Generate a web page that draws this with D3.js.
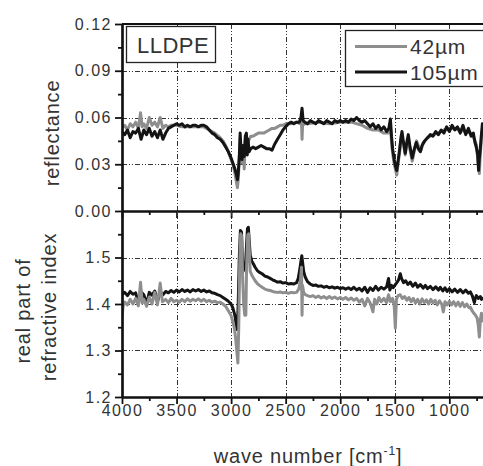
<!DOCTYPE html>
<html>
<head>
<meta charset="utf-8">
<script src="https://cdn.jsdelivr.net/npm/d3@7"></script>
<style>
  body { margin: 0; background: #fff; }
  svg { display: block; font-family: 'Liberation Sans', Arial, sans-serif; }
</style>
</head>
<body>
<div id="chart"></div>
<script>
const width = 483;
const height = 466;

// tick values
const xTicks = [4000, 3500, 3000, 2500, 2000, 1500, 1000];
const xMinor = [3750, 3250, 2750, 2250, 1750, 1250, 750];
const reflTicks = [0.0, 0.03, 0.06, 0.09, 0.12];
const reflMinor = [0.015, 0.045, 0.075, 0.105];
const indexTicks = [1.2, 1.3, 1.4, 1.5];
const indexMinor = [1.25, 1.35, 1.45, 1.55];
const seriesNames = ['42µm', '105µm'];

// reflectance, 42 µm film  [wave number, value]
const refl42 = [
  [4000,0.053],[3975,0.055],[3950,0.052],[3925,0.056],[3900,0.054],[3875,0.057],[3850,0.053],
  [3830,0.063],[3815,0.054],[3800,0.056],[3775,0.053],[3750,0.060],[3725,0.055],[3700,0.057],
  [3675,0.054],[3650,0.060],[3625,0.053],[3600,0.055],[3575,0.054],[3550,0.055],[3525,0.055],
  [3500,0.055],[3450,0.054],[3400,0.054],[3350,0.054],[3300,0.054],[3250,0.054],[3200,0.052],
  [3150,0.050],[3100,0.047],[3075,0.045],[3050,0.042],[3025,0.038],[3000,0.033],[2980,0.029],
  [2965,0.024],[2950,0.018],[2942,0.015],[2935,0.020],[2925,0.033],[2917,0.047],[2910,0.036],
  [2900,0.031],[2890,0.040],[2880,0.027],[2870,0.045],[2860,0.048],[2850,0.043],[2835,0.046],
  [2820,0.048],[2800,0.048],[2775,0.049],[2750,0.050],[2725,0.050],[2700,0.050],[2675,0.051],
  [2650,0.052],[2625,0.053],[2600,0.053],[2575,0.054],[2550,0.055],[2525,0.055],[2500,0.056],
  [2450,0.056],[2400,0.057],[2370,0.056],[2355,0.058],[2350,0.046],[2345,0.055],[2325,0.056],
  [2300,0.056],[2200,0.057],[2100,0.056],[2000,0.057],[1900,0.057],[1800,0.055],[1750,0.053],
  [1700,0.052],[1650,0.052],[1600,0.050],[1560,0.050],[1540,0.054],[1525,0.040],[1510,0.032],
  [1495,0.027],[1482,0.023],[1470,0.030],[1455,0.038],[1440,0.049],[1420,0.043],[1404,0.036],
  [1390,0.043],[1376,0.047],[1360,0.039],[1340,0.032],[1320,0.039],[1300,0.045],[1280,0.041],
  [1260,0.039],[1240,0.044],[1200,0.047],[1150,0.049],[1100,0.050],[1050,0.052],[1000,0.053],
  [950,0.053],[900,0.052],[850,0.051],[800,0.050],[770,0.046],[750,0.042],[735,0.030],
  [725,0.024],[716,0.036],[705,0.048],[690,0.054]
];

// reflectance, 105 µm film
const refl105 = [
  [4000,0.051],[3975,0.049],[3950,0.052],[3925,0.047],[3900,0.051],[3875,0.050],[3850,0.053],
  [3825,0.046],[3800,0.052],[3775,0.049],[3750,0.053],[3725,0.048],[3700,0.051],[3675,0.047],
  [3650,0.052],[3625,0.046],[3600,0.050],[3575,0.053],[3550,0.054],[3525,0.055],[3500,0.056],
  [3475,0.055],[3450,0.056],[3425,0.054],[3400,0.055],[3375,0.054],[3350,0.055],[3325,0.055],
  [3300,0.054],[3275,0.055],[3250,0.055],[3225,0.054],[3200,0.052],[3175,0.050],[3150,0.049],
  [3125,0.047],[3100,0.046],[3075,0.044],[3050,0.041],[3025,0.038],[3000,0.034],[2980,0.030],
  [2965,0.027],[2950,0.023],[2942,0.020],[2935,0.024],[2925,0.035],[2917,0.050],[2910,0.040],
  [2900,0.033],[2890,0.042],[2880,0.035],[2870,0.048],[2860,0.050],[2852,0.036],[2845,0.046],
  [2835,0.038],[2820,0.040],[2800,0.041],[2775,0.040],[2750,0.041],[2725,0.042],[2700,0.041],
  [2675,0.040],[2650,0.040],[2625,0.039],[2600,0.043],[2575,0.046],[2550,0.049],[2525,0.052],
  [2500,0.054],[2475,0.056],[2450,0.057],[2425,0.056],[2400,0.057],[2375,0.057],[2360,0.060],
  [2350,0.066],[2340,0.058],[2325,0.057],[2300,0.056],[2275,0.058],[2250,0.057],[2225,0.056],
  [2200,0.058],[2175,0.057],[2150,0.056],[2125,0.058],[2100,0.057],[2075,0.056],[2050,0.058],
  [2025,0.057],[2000,0.058],[1975,0.057],[1950,0.058],[1925,0.057],[1900,0.059],[1875,0.058],
  [1850,0.060],[1825,0.058],[1800,0.057],[1775,0.058],[1750,0.056],[1725,0.054],[1700,0.056],
  [1675,0.053],[1650,0.055],[1625,0.052],[1600,0.054],[1575,0.051],[1555,0.053],[1540,0.059],
  [1530,0.048],[1520,0.040],[1505,0.033],[1495,0.029],[1482,0.026],[1470,0.032],[1455,0.040],
  [1445,0.046],[1434,0.051],[1420,0.044],[1404,0.037],[1390,0.044],[1376,0.049],[1360,0.041],
  [1340,0.034],[1320,0.040],[1303,0.044],[1285,0.040],[1266,0.038],[1250,0.042],[1225,0.045],
  [1200,0.047],[1175,0.049],[1150,0.048],[1125,0.051],[1100,0.049],[1075,0.052],[1050,0.050],
  [1025,0.054],[1000,0.051],[975,0.055],[950,0.052],[925,0.054],[900,0.050],[875,0.055],
  [850,0.049],[825,0.053],[800,0.048],[780,0.050],[765,0.044],[750,0.040],[740,0.036],
  [732,0.026],[725,0.034],[716,0.040],[705,0.050],[697,0.056],[690,0.055]
];

// real part of refractive index, 42 µm film
const index42 = [
  [4000,1.370],[3990,1.395],[3975,1.404],[3950,1.398],[3925,1.410],[3900,1.400],[3875,1.412],
  [3850,1.396],[3830,1.447],[3815,1.402],[3800,1.410],[3775,1.395],[3750,1.415],[3725,1.400],
  [3700,1.425],[3675,1.398],[3650,1.445],[3630,1.405],[3600,1.410],[3575,1.403],[3550,1.412],
  [3525,1.405],[3500,1.408],[3475,1.404],[3450,1.410],[3425,1.405],[3400,1.411],[3375,1.406],
  [3350,1.410],[3325,1.407],[3300,1.411],[3275,1.406],[3250,1.410],[3225,1.405],[3200,1.408],
  [3175,1.404],[3150,1.406],[3125,1.403],[3100,1.404],[3075,1.400],[3050,1.395],[3027,1.386],
  [3000,1.375],[2985,1.362],[2970,1.348],[2958,1.325],[2948,1.300],[2938,1.273],[2930,1.350],
  [2922,1.480],[2912,1.551],[2903,1.545],[2895,1.460],[2885,1.400],[2875,1.376],[2865,1.376],
  [2858,1.480],[2848,1.548],[2840,1.551],[2832,1.510],[2825,1.470],[2810,1.462],[2795,1.456],
  [2780,1.450],[2760,1.444],[2740,1.440],[2716,1.436],[2690,1.432],[2665,1.430],[2642,1.429],
  [2620,1.427],[2600,1.426],[2575,1.425],[2550,1.426],[2525,1.424],[2500,1.425],[2475,1.423],
  [2450,1.425],[2425,1.424],[2400,1.425],[2380,1.432],[2365,1.450],[2355,1.479],[2350,1.376],
  [2345,1.440],[2335,1.425],[2320,1.420],[2300,1.418],[2275,1.416],[2250,1.418],[2225,1.414],
  [2200,1.417],[2175,1.413],[2150,1.416],[2125,1.412],[2100,1.416],[2075,1.412],[2050,1.415],
  [2025,1.411],[2000,1.414],[1975,1.410],[1950,1.414],[1925,1.409],[1900,1.413],[1875,1.408],
  [1850,1.412],[1825,1.404],[1800,1.410],[1775,1.396],[1750,1.412],[1725,1.402],[1700,1.383],
  [1685,1.410],[1665,1.400],[1645,1.414],[1625,1.405],[1600,1.412],[1575,1.403],[1557,1.420],
  [1540,1.405],[1520,1.412],[1505,1.395],[1495,1.348],[1485,1.410],[1470,1.418],[1450,1.420],
  [1430,1.412],[1410,1.416],[1390,1.408],[1370,1.414],[1350,1.405],[1330,1.412],[1310,1.402],
  [1290,1.410],[1270,1.400],[1250,1.411],[1230,1.403],[1210,1.409],[1190,1.400],[1170,1.410],
  [1150,1.402],[1130,1.408],[1110,1.398],[1090,1.407],[1070,1.400],[1055,1.383],[1040,1.405],
  [1020,1.398],[1000,1.406],[980,1.398],[960,1.405],[940,1.396],[920,1.404],[900,1.395],
  [880,1.403],[860,1.394],[840,1.400],[820,1.392],[807,1.393],[790,1.385],[775,1.380],
  [761,1.376],[745,1.370],[735,1.355],[725,1.329],[716,1.365],[706,1.380],[697,1.370],[690,1.361]
];

// real part of refractive index, 105 µm film
const index105 = [
  [4000,1.420],[3975,1.425],[3950,1.418],[3925,1.427],[3900,1.421],[3875,1.424],[3850,1.402],
  [3825,1.426],[3800,1.420],[3775,1.400],[3750,1.425],[3725,1.419],[3700,1.428],[3675,1.405],
  [3650,1.426],[3625,1.420],[3600,1.427],[3575,1.424],[3550,1.429],[3525,1.425],[3500,1.430],
  [3475,1.426],[3450,1.431],[3425,1.427],[3400,1.430],[3375,1.426],[3350,1.431],[3325,1.428],
  [3300,1.431],[3275,1.427],[3250,1.430],[3225,1.426],[3200,1.428],[3175,1.424],[3150,1.423],
  [3125,1.420],[3100,1.418],[3075,1.414],[3050,1.410],[3025,1.406],[3000,1.400],[2985,1.392],
  [2970,1.380],[2960,1.368],[2950,1.345],[2942,1.350],[2935,1.400],[2925,1.500],[2915,1.558],
  [2905,1.555],[2897,1.500],[2890,1.470],[2880,1.480],[2870,1.475],[2860,1.520],[2850,1.562],
  [2842,1.565],[2835,1.540],[2825,1.505],[2810,1.492],[2795,1.486],[2780,1.479],[2760,1.472],
  [2740,1.468],[2716,1.465],[2690,1.460],[2665,1.458],[2642,1.455],[2620,1.452],[2600,1.450],
  [2575,1.447],[2550,1.448],[2525,1.445],[2500,1.446],[2475,1.443],[2450,1.444],[2425,1.443],
  [2400,1.446],[2385,1.455],[2370,1.475],[2360,1.492],[2352,1.504],[2345,1.490],[2335,1.470],
  [2321,1.458],[2300,1.448],[2275,1.443],[2250,1.440],[2225,1.441],[2200,1.438],[2175,1.439],
  [2150,1.436],[2125,1.438],[2100,1.435],[2075,1.437],[2050,1.434],[2025,1.436],[2000,1.433],
  [1975,1.435],[1950,1.432],[1925,1.435],[1900,1.431],[1875,1.436],[1850,1.430],[1825,1.434],
  [1800,1.428],[1775,1.436],[1750,1.425],[1725,1.435],[1700,1.429],[1675,1.438],[1650,1.430],
  [1625,1.436],[1600,1.432],[1575,1.437],[1557,1.455],[1545,1.430],[1530,1.440],[1515,1.435],
  [1500,1.440],[1485,1.445],[1465,1.452],[1450,1.465],[1438,1.455],[1420,1.446],[1400,1.450],
  [1380,1.442],[1358,1.447],[1335,1.438],[1310,1.445],[1290,1.436],[1266,1.442],[1240,1.434],
  [1220,1.440],[1200,1.433],[1174,1.438],[1150,1.431],[1125,1.437],[1100,1.430],[1083,1.436],
  [1060,1.428],[1040,1.435],[1020,1.427],[1000,1.433],[975,1.426],[950,1.432],[925,1.425],
  [900,1.431],[875,1.424],[850,1.430],[825,1.423],[807,1.426],[790,1.418],[780,1.410],
  [771,1.403],[762,1.412],[752,1.418],[735,1.412],[716,1.416],[705,1.410],[690,1.414]
];

const grey = '#8e8e8e';
const black = '#141414';
const textColor = '#333';

const svg = d3.select('#chart').append('svg')
  .attr('width', width)
  .attr('height', height)
  .attr('viewBox', [0, 0, width, height]);

// wave number runs right to left; the frame continues past the window edge
const x = d3.scaleLinear().domain([4000, 400]).range([122, 514.8]);
const yRefl = d3.scaleLinear().domain([0, 0.12]).range([211, 24]);
const yIndex = d3.scaleLinear().domain([1.2, 1.6]).range([397, 211]);

const panels = [
  { y: yRefl, top: 24, bottom: 211, ticks: reflTicks, minor: reflMinor, fmt: d3.format('.2f'),
    data: [refl42, refl105], order: [0, 1], id: 'clipA' },
  { y: yIndex, top: 211, bottom: 397, ticks: indexTicks, minor: indexMinor, fmt: d3.format('.1f'),
    data: [index42, index105], order: [1, 0], id: 'clipB' },
];

const gridDash = '5,2,1,2,1,2';

panels.forEach((p) => {
  svg.append('clipPath').attr('id', p.id)
    .append('rect')
    .attr('x', 122).attr('y', p.top)
    .attr('width', width - 122).attr('height', p.bottom - p.top);

  // grid
  const grid = svg.append('g')
    .attr('stroke', '#333')
    .attr('stroke-width', 1)
    .attr('stroke-dasharray', gridDash)
    .attr('fill', 'none');
  grid.selectAll('line.v')
    .data(xTicks.slice(1))
    .join('line')
    .attr('class', 'v')
    .attr('x1', (d) => Math.round(x(d)) + 0.5)
    .attr('x2', (d) => Math.round(x(d)) + 0.5)
    .attr('y1', p.top)
    .attr('y2', p.bottom);
  grid.selectAll('line.h')
    .data(p.ticks.filter((d) => d > p.y.domain()[0] && d < p.y.domain()[1]))
    .join('line')
    .attr('class', 'h')
    .attr('x1', 122)
    .attr('x2', width)
    .attr('y1', (d) => Math.round(p.y(d)) + 0.5)
    .attr('y2', (d) => Math.round(p.y(d)) + 0.5);

  // curves
  const line = d3.line()
    .x((d) => x(d[0]))
    .y((d) => p.y(d[1]));
  const curves = svg.append('g').attr('clip-path', `url(#${p.id})`);
  p.order.forEach((i) => {
    curves.append('path')
      .datum(p.data[i])
      .attr('fill', 'none')
      .attr('stroke', i === 0 ? grey : black)
      .attr('stroke-width', 3)
      .attr('stroke-linejoin', 'round')
      .attr('d', line);
  });

  // left axis
  svg.append('g')
    .attr('transform', 'translate(122,0)')
    .call(d3.axisLeft(p.y).tickValues(p.ticks).tickSize(7).tickSizeOuter(0)
      .tickPadding(3).tickFormat(p.fmt));
  svg.append('g')
    .attr('transform', 'translate(122,0)')
    .call(d3.axisLeft(p.y).tickValues(p.minor).tickSize(4).tickSizeOuter(0).tickFormat(''));

  // bottom axis of panel
  svg.append('g')
    .attr('transform', `translate(0,${p.bottom})`)
    .call(d3.axisBottom(x).tickValues(xTicks).tickSize(7).tickSizeOuter(0)
      .tickPadding(1).tickFormat(p === panels[1] ? d3.format('d') : ''));
  svg.append('g')
    .attr('transform', `translate(0,${p.bottom})`)
    .call(d3.axisBottom(x).tickValues(xMinor).tickSize(4).tickSizeOuter(0).tickFormat(''));
});

// top border
svg.append('line')
  .attr('x1', 122).attr('x2', width)
  .attr('y1', 24).attr('y2', 24)
  .attr('stroke', '#111').attr('stroke-width', 2.2);

svg.selectAll('.domain').attr('stroke', '#111').attr('stroke-width', 2.2);
svg.selectAll('.tick line').attr('stroke', '#111').attr('stroke-width', 1.8);
svg.selectAll('.tick text')
  .attr('fill', textColor)
  .attr('font-size', 16)
  .attr('letter-spacing', 1.5)
  .attr('font-family', "'Liberation Sans', Arial, sans-serif");

// axis titles
const title = (sel) => sel
  .attr('fill', textColor)
  .attr('font-size', 20)
  .attr('letter-spacing', 0.8)
  .attr('text-anchor', 'middle');

svg.append('text').call(title)
  .attr('transform', 'translate(59,133) rotate(-90)')
  .text('reflectance');
svg.append('text').call(title)
  .attr('transform', 'translate(30,311) rotate(-90)')
  .text('real part of');
svg.append('text').call(title)
  .attr('transform', 'translate(56,307) rotate(-90)')
  .text('refractive index');

const xt = svg.append('text').call(title)
  .attr('x', 308).attr('y', 463);
xt.append('tspan').text('wave number [cm');
xt.append('tspan').attr('font-size', 12).attr('dy', -8).text('-1');
xt.append('tspan').attr('dy', 8).text(']');

// sample label
svg.append('rect')
  .attr('x', 126.5).attr('y', 26.5).attr('width', 89).attr('height', 36)
  .attr('fill', '#fff').attr('stroke', '#222').attr('stroke-width', 1.3);
svg.append('text')
  .attr('x', 137).attr('y', 53)
  .attr('fill', textColor).attr('font-size', 22).attr('letter-spacing', 0.5)
  .text('LLDPE');

// legend
const legend = svg.append('g');
legend.append('rect')
  .attr('x', 345.5).attr('y', 30.5).attr('width', 150).attr('height', 56)
  .attr('fill', '#fff').attr('stroke', '#222').attr('stroke-width', 1.3);
seriesNames.forEach((name, i) => {
  const yy = 46.5 + i * 25.5;
  legend.append('line')
    .attr('x1', 355).attr('x2', 407)
    .attr('y1', yy).attr('y2', yy)
    .attr('stroke', i === 0 ? grey : black)
    .attr('stroke-width', 3);
  legend.append('text')
    .attr('x', 410).attr('y', yy + 7.5)
    .attr('fill', textColor).attr('font-size', 21).attr('letter-spacing', 0.8)
    .text(name);
});
</script>
</body>
</html>
